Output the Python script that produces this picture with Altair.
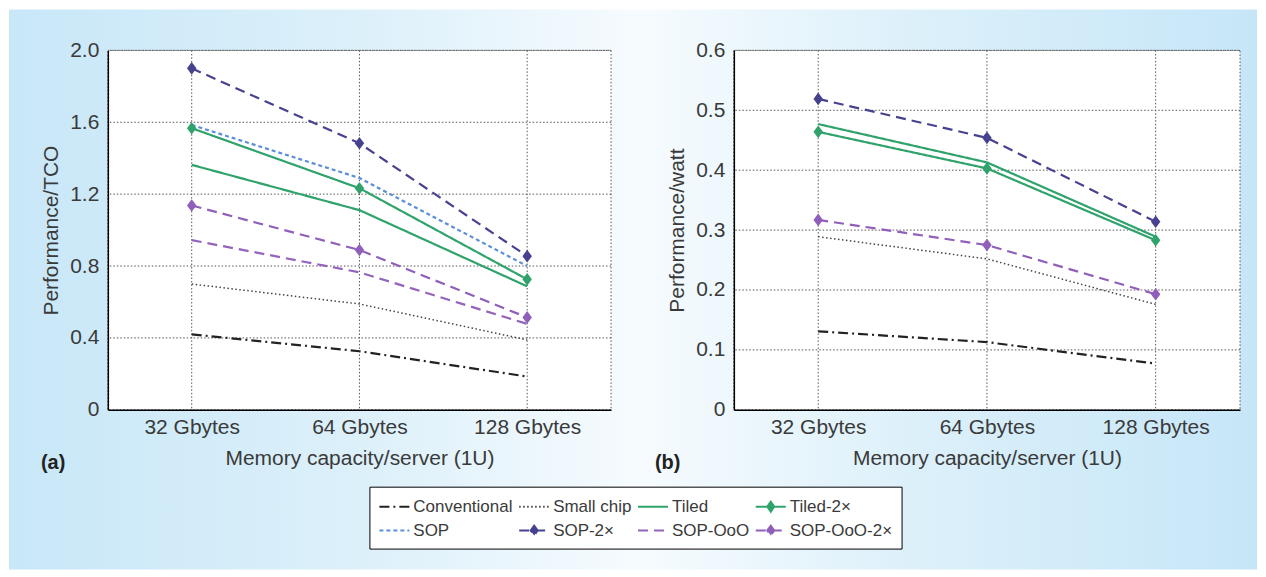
import altair as alt
import pandas as pd

# ---------------- data ----------------
memory = ["32 Gbytes", "64 Gbytes", "128 Gbytes"]
series = ["Conventional", "Small chip", "Tiled", "Tiled-2×",
          "SOP", "SOP-2×", "SOP-OoO", "SOP-OoO-2×"]

# (a) Performance/TCO
tco_conventional = [0.42, 0.326, 0.185]
tco_small_chip = [0.70, 0.589, 0.389]
tco_tiled = [1.363, 1.111, 0.687]
tco_tiled_2x = [1.567, 1.233, 0.726]
tco_sop = [1.585, 1.29, 0.80]
tco_sop_2x = [1.90, 1.483, 0.855]
tco_sop_ooo = [0.944, 0.765, 0.478]
tco_sop_ooo_2x = [1.137, 0.889, 0.514]

# (b) Performance/watt
watt_conventional = [0.131, 0.113, 0.077]
watt_small_chip = [0.289, 0.252, 0.176]
watt_tiled = [0.477, 0.413, 0.289]
watt_tiled_2x = [0.464, 0.403, 0.283]
watt_sop_2x = [0.519, 0.454, 0.314]
watt_sop_ooo_2x = [0.317, 0.275, 0.193]

tco_ticks = [0, 0.4, 0.8, 1.2, 1.6, 2.0]
watt_ticks = [0, 0.1, 0.2, 0.3, 0.4, 0.5, 0.6]

marker_series = ["Tiled-2×", "SOP-2×", "SOP-OoO-2×"]

# ---------------- styles ----------------
colors = ["#222222", "#444444", "#2fa36b", "#2fa36b",
          "#5b8fd8", "#47428f", "#9363bd", "#8f5fba"]
dashes = [[10, 4, 2, 4], [1.5, 2.5], [1, 0], [1, 0],
          [4, 3], [10, 6], [10, 6], [10, 6]]
# legend symbols: a 30px line (with a diamond in the middle for the 2x series)
LINE = "M-1,0H2"
DIAM = "M-1,0H2M0.5,-0.5L0.85,0L0.5,0.5L0.15,0Z"
legend_shapes = [LINE, LINE, LINE, DIAM, LINE, DIAM, LINE, DIAM]
marker_path = "M0,-1L0.75,0L0,1L-0.75,0Z"

FONT = "Liberation Sans"
TXT = "#3a3a3a"
H = 360


def frame(name_values):
    rows = []
    for s, vals in name_values:
        for m, v in zip(memory, vals):
            rows.append({"series": s, "mem": m, "value": v})
    return pd.DataFrame(rows)


tco_df = frame([
    ("Conventional", tco_conventional), ("Small chip", tco_small_chip),
    ("Tiled", tco_tiled), ("Tiled-2×", tco_tiled_2x),
    ("SOP", tco_sop), ("SOP-2×", tco_sop_2x),
    ("SOP-OoO", tco_sop_ooo), ("SOP-OoO-2×", tco_sop_ooo_2x),
])
watt_df = frame([
    ("Conventional", watt_conventional), ("Small chip", watt_small_chip),
    ("Tiled", watt_tiled), ("Tiled-2×", watt_tiled_2x),
    ("SOP-2×", watt_sop_2x), ("SOP-OoO-2×", watt_sop_ooo_2x),
])

# line colour scale (no legend) kept in reverse order so it is not merged
# with the legend scales below
line_color_scale = alt.Scale(domain=series[::-1], range=colors[::-1])
color_scale = alt.Scale(domain=series, range=colors)
dash_scale = alt.Scale(domain=series, range=dashes)

legend_def = alt.Legend(
    title=None, orient="none", legendX=262, legendY=437, zindex=2,
    columns=4, gridAlign="none", direction="horizontal",
    labelFont=FONT, labelFontSize=17, labelColor=TXT, labelLimit=0,
    labelOffset=13, columnPadding=2, rowPadding=4,
    symbolSize=400, symbolStrokeWidth=2, symbolOpacity=1,
    strokeColor="black", fillColor="white", padding=9,
)


def gradient(stops):
    return alt.LinearGradient(
        gradient="linear", x1=0, x2=1, y1=0, y2=0,
        stops=[alt.GradientStop(color=c, offset=o) for o, c in stops],
    )


def panel(df, W, ytitle, ticks, ymax, tag, tag_x, bg_x, bg_x2, stops, with_legend):
    xs = alt.Scale(type="point", domain=memory, padding=0.5)
    ys = alt.Scale(domain=[0, ymax], nice=False, zero=True)
    xaxis = alt.Axis(title="Memory capacity/server (1U)", labelAngle=0, ticks=False,
                     grid=False, domainColor="black", domainWidth=1.5, zindex=1,
                     labelPadding=7, titlePadding=10, labelFontSize=21, titleFontSize=21,
                     labelColor=TXT, titleColor=TXT, titleFontWeight="normal",
                     labelFont=FONT, titleFont=FONT)
    yaxis = alt.Axis(title=ytitle, values=ticks, ticks=False, grid=False,
                     labelExpr="datum.value == 0 ? '0' : format(datum.value, '.1f')",
                     domainColor="black", domainWidth=1.5, zindex=1,
                     labelPadding=9, titlePadding=8, labelFontSize=21, titleFontSize=21,
                     labelColor=TXT, titleColor=TXT, titleFontWeight="normal",
                     labelFont=FONT, titleFont=FONT)
    X = alt.X("mem:N", scale=xs, axis=xaxis)
    Y = alt.Y("value:Q", scale=ys, axis=yaxis)
    one = pd.DataFrame({"k": [0]})

    layers = []
    if with_legend:
        # empty layer that only feeds the legend (kept first so its legend wins)
        leg = alt.Chart(df).transform_filter("false").mark_point(
            filled=True, opacity=1
        ).encode(
            x=X, y=Y,
            fill=alt.Fill("series:N", scale=color_scale, legend=legend_def),
            stroke=alt.Stroke("series:N", scale=color_scale, legend=legend_def),
            shape=alt.Shape("series:N", scale=alt.Scale(domain=series, range=legend_shapes),
                            legend=legend_def),
            strokeDash=alt.StrokeDash("series:N", scale=dash_scale, legend=legend_def),
        )
        layers.append(leg)

    bg = alt.Chart(one).mark_rect(fill=gradient(stops)).encode(
        x=alt.value(bg_x), x2=alt.value(bg_x2), y=alt.value(-41), y2=alt.value(520))
    plot_bg = alt.Chart(one).mark_rect(
        fill="white", stroke="#555555", strokeDash=[1.5, 2], strokeWidth=1
    ).encode(x=alt.value(0), x2=alt.value(W), y=alt.value(0), y2=alt.value(H))
    hgrid = alt.Chart(pd.DataFrame({"value": ticks[1:]})).mark_rule(
        stroke="#555555", strokeDash=[1.5, 2], strokeWidth=1
    ).encode(y=Y)
    vgrid = alt.Chart(pd.DataFrame({"mem": memory})).mark_rule(
        stroke="#555555", strokeDash=[1.5, 2], strokeWidth=1
    ).encode(x=X)

    lines = alt.Chart(df).transform_filter(
        "datum.series != 'Small chip'"
    ).mark_line(strokeWidth=2.2).encode(
        x=X, y=Y,
        color=alt.Color("series:N", scale=line_color_scale, legend=None),
        strokeDash=alt.StrokeDash("series:N", scale=dash_scale, legend=None),
    )
    dotted = alt.Chart(df).transform_filter(
        "datum.series == 'Small chip'"
    ).mark_line(strokeWidth=1.5, strokeDash=[1.5, 2.5], color="#444444").encode(x=X, y=Y)
    pts = alt.Chart(df).transform_filter(
        alt.FieldOneOfPredicate(field="series", oneOf=marker_series)
    ).mark_point(filled=True, shape=marker_path, size=160, opacity=1).encode(
        x=X, y=Y,
        color=alt.Color("series:N", scale=line_color_scale, legend=None),
    )
    label = alt.Chart(one).mark_text(
        text=tag, font=FONT, fontSize=20, fontWeight="bold", color="#222222",
        align="left", baseline="middle"
    ).encode(x=alt.value(tag_x), y=alt.value(413))

    layers += [bg, plot_bg, hgrid, vgrid, dotted, lines, pts, label]
    return alt.layer(*layers).properties(width=W, height=H)


left = panel(tco_df, 504, "Performance/TCO", tco_ticks, 2.0, "(a)", -67,
             -99, 533, [(0, "#c8e7f8"), (0.55, "#dcf0fa"), (1, "#f6fbfe")], True)
right = panel(watt_df, 507, "Performance/watt", watt_ticks, 0.6, "(b)", -79,
              -94, 524, [(0, "#f6fbfe"), (0.45, "#dcf0fa"), (1, "#c6e6f8")], False)

chart = alt.hconcat(left, right, spacing=123, bounds="flush").properties(
    padding=0
).configure_view(stroke=None).configure(font=FONT)

chart.save("out.html", embed_options={"renderer": "svg", "actions": False})
